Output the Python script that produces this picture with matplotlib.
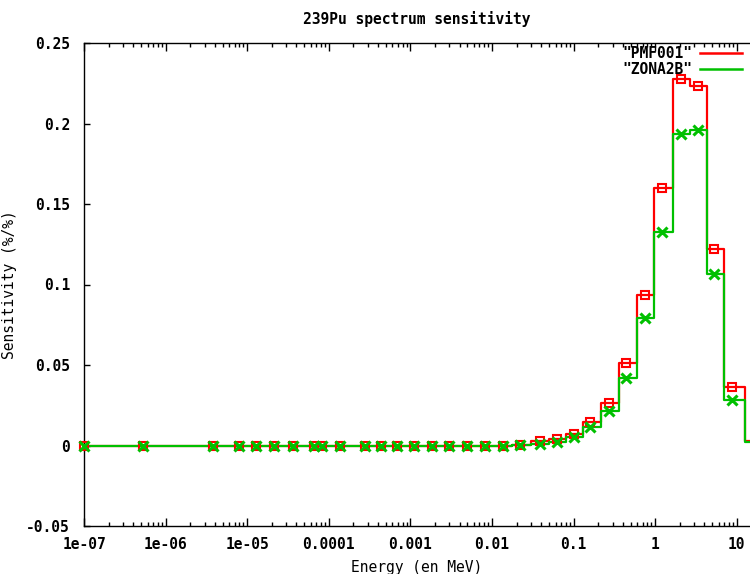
import matplotlib
matplotlib.use("Agg")
import matplotlib.pyplot as plt
from matplotlib.lines import Line2D
from matplotlib.ticker import FixedLocator, LogLocator, NullFormatter

# energy group points (MeV) and sensitivities
energy = [1e-7, 5.3e-7, 3.8e-6, 8.0e-6, 1.29e-5, 2.14e-5, 3.66e-5, 6.6e-5,
          8.3e-5, 1.38e-4, 2.8e-4, 4.4e-4, 6.9e-4, 1.12e-3, 1.86e-3, 3.0e-3,
          5.0e-3, 8.1e-3, 1.35e-2, 2.19e-2, 3.9e-2, 6.2e-2, 0.1, 0.16, 0.27,
          0.44, 0.74, 1.2, 2.06, 3.3, 5.2, 8.7, 16.3]
pmf001 = [0, 0, 0, 0, 0, 0, 0, 0, 0, 0, 0, 0, 0, 0, 0, 0, 0, 0, 0,
          0.0003, 0.0027, 0.0043, 0.0072, 0.0144, 0.0264, 0.0512, 0.0935,
          0.1597, 0.2278, 0.2230, 0.1219, 0.0361, 0.0030]
zona2b = [0, 0, 0, 0, 0, 0, 0, 0, 0, 0, 0, 0, 0, 0, 0, 0, 0, 0, 0,
          0.0002, 0.0012, 0.0023, 0.0054, 0.0113, 0.0213, 0.0419, 0.0791,
          0.1324, 0.1937, 0.1958, 0.1064, 0.0285, 0.0020]

xticks = [1e-7, 1e-6, 1e-5, 1e-4, 1e-3, 1e-2, 1e-1, 1, 10]
xticklabels = ["1e-07", "1e-06", "1e-05", "0.0001", "0.001", "0.01", "0.1", "1", "10"]
yticks = [-0.05, 0, 0.05, 0.1, 0.15, 0.2, 0.25]
yticklabels = ["-0.05", "0", "0.05", "0.1", "0.15", "0.2", "0.25"]

RED = "#ff0000"
GREEN = "#00c000"

plt.rcParams["font.family"] = "DejaVu Sans Mono"
plt.rcParams["font.weight"] = "bold"
plt.rcParams["font.size"] = 10.5

fig = plt.figure(figsize=(7.5, 5.74), dpi=100)
ax = fig.add_axes([84 / 750, 48 / 574, 1 - 84 / 750, (526 - 43) / 574])

ax.step(energy, pmf001, where="mid", color=RED, lw=1.6, zorder=2)
ax.step(energy, zona2b, where="mid", color=GREEN, lw=1.6, zorder=3)
# markers for points inside the visible range
ax.plot(energy[:-1], pmf001[:-1], "s", ms=6, mfc="none", mec=RED, mew=1.5,
        clip_on=False, zorder=4)
ax.plot(energy[:-1], zona2b[:-1], "x", ms=7, mec=GREEN, mew=2.2,
        clip_on=False, zorder=5)

ax.set_xscale("log")
ax.set_xlim(1e-7, 14.5)
ax.set_ylim(-0.05, 0.25)
ax.xaxis.set_major_locator(FixedLocator(xticks))
ax.set_xticklabels(xticklabels)
ax.xaxis.set_minor_locator(LogLocator(base=10, subs=range(2, 10), numticks=20))
ax.xaxis.set_minor_formatter(NullFormatter())
ax.set_yticks(yticks)
ax.set_yticklabels(yticklabels)

ax.spines["right"].set_visible(False)
for s in ["left", "bottom", "top"]:
    ax.spines[s].set_linewidth(1.0)
    ax.spines[s].set_color("#000000")
ax.tick_params(axis="x", which="major", direction="in", length=6, width=1,
               top=True, pad=8)
ax.tick_params(axis="x", which="minor", direction="in", length=3, width=1,
               top=True)
ax.tick_params(axis="y", which="major", direction="in", length=4, width=1,
               right=False, pad=10)

ax.set_title("239Pu spectrum sensitivity", fontsize=10.5, fontweight="bold", pad=14)
ax.set_xlabel("Energy (en MeV)", labelpad=6)
ax.set_ylabel("Sensitivity (%/%)")
ax.yaxis.set_label_coords((17 - 84) / 666, 0.5)

handles = [Line2D([], [], color=RED, lw=1.8), Line2D([], [], color=GREEN, lw=1.8)]
ax.legend(handles, ['"PMF001"', '"ZONA2B"'], loc="upper right",
          bbox_to_anchor=(742 / 750, 1 - 46 / 574), bbox_transform=fig.transFigure,
          frameon=False, markerfirst=False, handlelength=2.9, handletextpad=0.5,
          labelspacing=0.1, borderpad=0, borderaxespad=0)

fig.savefig("out.png", dpi=100)
